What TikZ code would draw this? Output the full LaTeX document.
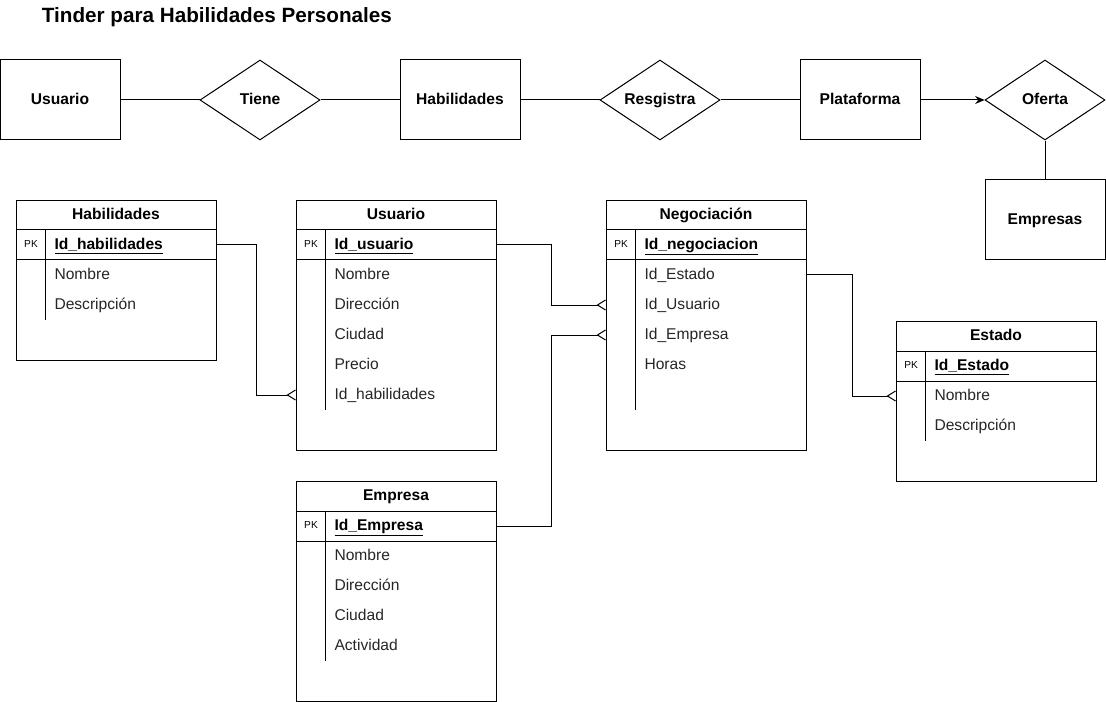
\documentclass[tikz,border=0pt]{standalone}
\usepackage{fontspec}
\setmainfont{Liberation Sans}
\usetikzlibrary{shapes.geometric, arrows.meta, positioning}
\tikzstyle{entity} = [
    rectangle,
    minimum width=90pt,
    minimum height=60pt,
    text height=8.8pt,
    text depth=2.6pt,
    text centered,
    draw=black,
    font=\fontsize{11.7}{14}\selectfont\bfseries
]
\tikzstyle{relation} = [
    diamond,
    minimum width=90pt,
    minimum height=60pt,
    inner sep=0pt,
    text height=8.8pt,
    text depth=2.6pt,
    text centered,
    draw=black,
    font=\fontsize{11.7}{14}\selectfont\bfseries,
    aspect=1.5
]
\tikzstyle{tablebox} = [
    rectangle,
    anchor=north west,
    minimum width=150pt,
    inner sep=0pt,
    draw=black
]
\tikzstyle{pkrow} = [
    rectangle,
    minimum width=150pt,
    minimum height=22.5pt,
    inner sep=0pt,
    draw=black
]
\tikzstyle{hdr} = [text height=8.8pt, text depth=2.6pt, font=\fontsize{11.7}{14}\selectfont\bfseries]
\tikzstyle{pklabel} = [text height=5.4pt, text depth=1.6pt, font=\fontsize{7.6}{9}\selectfont]
\tikzstyle{field} = [anchor=west, inner sep=0pt, text height=8.8pt, text depth=2.6pt, text=black!85]
\tikzstyle{pkfield} = [anchor=west, inner sep=0pt, text height=8.8pt, text depth=2.6pt, font=\fontsize{11.7}{14}\selectfont\bfseries]
\tikzstyle{many} = [-{Straight Barb[reversed, length=6pt, width=7.5pt]}]
\tikzstyle{arrow} = [-{Stealth[length=7pt, width=6pt]}]

\begin{document}
\begin{tikzpicture}[x=0.75pt, y=-0.75pt, line width=0.75pt, font=\fontsize{11.7}{14}\selectfont]
\useasboundingbox (0,0) rectangle (1106,702);

\node (title) [anchor=west, font=\fontsize{15.5}{18}\selectfont\bfseries] at (37,17) {Tinder para Habilidades Personales};

% modelo entidad relacion
\node (usuario) [entity] at (60,100) {Usuario};
\node (tiene) [relation] at (260,100) {Tiene};
\node (habilidades) [entity] at (460,100) {Habilidades};
\node (resgistra) [relation] at (660,100) {Resgistra};
\node (plataforma) [entity] at (860,100) {Plataforma};
\node (oferta) [relation] at (1045,100) {Oferta};
\node (empresas) [entity] at (1045,220) {Empresas};

\draw (usuario) -- (tiene);
\draw (tiene) -- (habilidades);
\draw (habilidades) -- (resgistra);
\draw (resgistra) -- (plataforma);
\draw [arrow] (plataforma) -- (oferta);
\draw (oferta) -- (empresas);

% tabla Habilidades
\node (tHab) [tablebox, minimum height=120pt] at (16,200) {};
\node (hHab) [hdr] at (116,215) {Habilidades};
\node (habPK) [pkrow] at (116,245) {};
\node (habPKl) [pklabel] at (31,245) {PK};
\node (habId) [pkfield] at (54,245) {\underline{Id\_habilidades}};
\node (habNombre) [field] at (54,275) {Nombre};
\node (habDesc) [field] at (54,305) {Descripción};
\draw ([xshift=22.5pt]habPK.north west) -- ++(0,90);

% tabla Usuario
\node (tUsu) [tablebox, minimum height=187.5pt] at (296,200) {};
\node (hUsu) [hdr] at (396,215) {Usuario};
\node (usuPK) [pkrow] at (396,245) {};
\node (usuPKl) [pklabel] at (311,245) {PK};
\node (usuId) [pkfield] at (334,245) {\underline{Id\_usuario}};
\node (usuNombre) [field] at (334,275) {Nombre};
\node (usuDir) [field] at (334,305) {Dirección};
\node (usuCiudad) [field] at (334,335) {Ciudad};
\node (usuPrecio) [field] at (334,365) {Precio};
\node (usuIdHab) [field] at (334,395) {Id\_habilidades};
\draw ([xshift=22.5pt]usuPK.north west) -- ++(0,180);

% tabla Negociacion
\node (tNeg) [tablebox, minimum height=187.5pt] at (606,200) {};
\node (hNeg) [hdr] at (706,215) {Negociación};
\node (negPK) [pkrow] at (706,245) {};
\node (negPKl) [pklabel] at (621,245) {PK};
\node (negId) [pkfield] at (644,245) {\underline{Id\_negociacion}};
\node (negIdEst) [field] at (644,275) {Id\_Estado};
\node (negIdUsu) [field] at (644,305) {Id\_Usuario};
\node (negIdEmp) [field] at (644,335) {Id\_Empresa};
\node (negHoras) [field] at (644,365) {Horas};
\draw ([xshift=22.5pt]negPK.north west) -- ++(0,180);

% tabla Estado
\node (tEst) [tablebox, minimum height=120pt] at (896,321) {};
\node (hEst) [hdr] at (996,336) {Estado};
\node (estPK) [pkrow] at (996,366) {};
\node (estPKl) [pklabel] at (911,366) {PK};
\node (estId) [pkfield] at (934,366) {\underline{Id\_Estado}};
\node (estNombre) [field] at (934,396) {Nombre};
\node (estDesc) [field] at (934,426) {Descripción};
\draw ([xshift=22.5pt]estPK.north west) -- ++(0,90);

% tabla Empresa
\node (tEmp) [tablebox, minimum height=165pt] at (296,481) {};
\node (hEmp) [hdr] at (396,496) {Empresa};
\node (empPK) [pkrow] at (396,526) {};
\node (empPKl) [pklabel] at (311,526) {PK};
\node (empId) [pkfield] at (334,526) {\underline{Id\_Empresa}};
\node (empNombre) [field] at (334,556) {Nombre};
\node (empDir) [field] at (334,586) {Dirección};
\node (empCiudad) [field] at (334,616) {Ciudad};
\node (empAct) [field] at (334,646) {Actividad};
\draw ([xshift=22.5pt]empPK.north west) -- ++(0,150);

% relaciones entre tablas
\draw [many] (habPK.east) -- ++(40,0) |- (usuIdHab -| tUsu.west);
\draw [many] (usuPK.east) -- ++(55,0) |- (negIdUsu -| tNeg.west);
\draw [many] (empPK.east) -- ++(55,0) |- (negIdEmp -| tNeg.west);
\draw [many] (negIdEst -| tNeg.east) -- ++(45,0) |- (estNombre -| tEst.west);

\end{tikzpicture}
\end{document}
